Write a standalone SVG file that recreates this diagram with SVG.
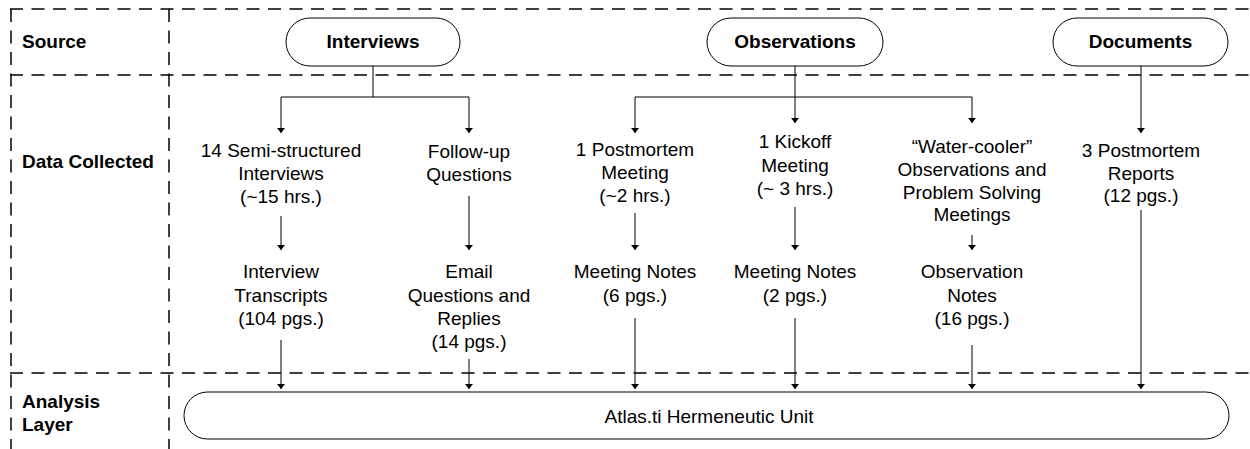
<svg xmlns="http://www.w3.org/2000/svg" width="1250" height="449" viewBox="0 0 1250 449">
<style>
.grid{stroke:#000;stroke-width:1.5;stroke-dasharray:13 8.5;fill:none}
.pill{fill:#fff;stroke:#000;stroke-width:1}
.conn path{stroke:#000;stroke-width:1;fill:none}
.arr{marker-end:url(#ah)}
text{font-family:"Liberation Sans",Arial,sans-serif;font-size:19px;fill:#000}
.b{font-weight:bold}
.c{text-anchor:middle}
</style>
<defs>
<marker id="ah" markerUnits="userSpaceOnUse" viewBox="0 -4 5 8" refX="5" refY="0" markerWidth="5" markerHeight="8" orient="auto">
<path d="M0,-4 L5,0 L0,4 z" fill="#000"/>
</marker>
</defs>
<rect width="1250" height="449" fill="#fff"/>
<g id="grid">
<path class="grid" d="M10,9 H1250"/>
<path class="grid" d="M10,75 H1250"/>
<path class="grid" d="M10,373 H1250"/>
<path class="grid" d="M11,9 V449"/>
<path class="grid" d="M169,9 V449"/>
</g>
<g id="row-labels">
<text class="b" x="22" y="48">Source</text>
<text class="b" x="22" y="168">Data Collected</text>
<text class="b" x="22" y="408">Analysis</text>
<text class="b" x="22" y="431">Layer</text>
</g>
<g id="conn" class="conn">
<path d="M373,66 V97"/>
<path d="M281,97 H469"/>
<path class="arr" d="M281,97 V133"/>
<path class="arr" d="M469,97 V133"/>
<path class="arr" d="M795,66 V123"/>
<path d="M635,97 H972"/>
<path class="arr" d="M635,97 V133"/>
<path class="arr" d="M972,97 V123"/>
<path class="arr" d="M1141,66 V133"/>
<path class="arr" d="M281,216 V250"/>
<path class="arr" d="M469,196 V250"/>
<path class="arr" d="M635,213 V250"/>
<path class="arr" d="M795,207 V250"/>
<path class="arr" d="M972,235 V250"/>
<path class="arr" d="M281,340 V389"/>
<path class="arr" d="M469,359 V389"/>
<path class="arr" d="M635,318 V389"/>
<path class="arr" d="M795,318 V389"/>
<path class="arr" d="M972,345 V389"/>
<path class="arr" d="M1141,210 V389"/>
</g>
<g id="interviews">
<rect class="pill" x="286" y="18" width="174" height="48" rx="24"/>
<text class="b c" x="373" y="48">Interviews</text>
</g>
<g id="observations">
<rect class="pill" x="707" y="18" width="176" height="48" rx="24"/>
<text class="b c" x="795" y="48">Observations</text>
</g>
<g id="documents">
<rect class="pill" x="1053" y="18" width="175" height="48" rx="24"/>
<text class="b c" x="1140.5" y="48">Documents</text>
</g>
<g id="semi-structured">
<text class="c" x="281" y="157">14 Semi-structured</text>
<text class="c" x="281" y="180">Interviews</text>
<text class="c" x="281" y="203">(~15 hrs.)</text>
</g>
<g id="transcripts">
<text class="c" x="281" y="278">Interview</text>
<text class="c" x="281" y="302">Transcripts</text>
<text class="c" x="281" y="325">(104 pgs.)</text>
</g>
<g id="follow-up">
<text class="c" x="469" y="158">Follow-up</text>
<text class="c" x="469" y="181">Questions</text>
</g>
<g id="email">
<text class="c" x="469" y="278">Email</text>
<text class="c" x="469" y="302">Questions and</text>
<text class="c" x="469" y="325">Replies</text>
<text class="c" x="469" y="348">(14 pgs.)</text>
</g>
<g id="postmortem-meeting">
<text class="c" x="635" y="156">1 Postmortem</text>
<text class="c" x="635" y="179">Meeting</text>
<text class="c" x="635" y="202">(~2 hrs.)</text>
</g>
<g id="meeting-notes-1">
<text class="c" x="635" y="278">Meeting Notes</text>
<text class="c" x="635" y="302">(6 pgs.)</text>
</g>
<g id="kickoff-meeting">
<text class="c" x="795" y="148">1 Kickoff</text>
<text class="c" x="795" y="172">Meeting</text>
<text class="c" x="795" y="195">(~ 3 hrs.)</text>
</g>
<g id="meeting-notes-2">
<text class="c" x="795" y="278">Meeting Notes</text>
<text class="c" x="795" y="302">(2 pgs.)</text>
</g>
<g id="water-cooler">
<text class="c" x="972" y="153">“Water-cooler”</text>
<text class="c" x="972" y="176">Observations and</text>
<text class="c" x="972" y="199">Problem Solving</text>
<text class="c" x="972" y="221">Meetings</text>
</g>
<g id="observation-notes">
<text class="c" x="972" y="278">Observation</text>
<text class="c" x="972" y="302">Notes</text>
<text class="c" x="972" y="325">(16 pgs.)</text>
</g>
<g id="postmortem-reports">
<text class="c" x="1141" y="157">3 Postmortem</text>
<text class="c" x="1141" y="180">Reports</text>
<text class="c" x="1141" y="202">(12 pgs.)</text>
</g>
<g id="atlas">
<rect class="pill" x="184" y="392" width="1045" height="47" rx="23.5"/>
<text class="c" x="709" y="423">Atlas.ti Hermeneutic Unit</text>
</g>
</svg>
